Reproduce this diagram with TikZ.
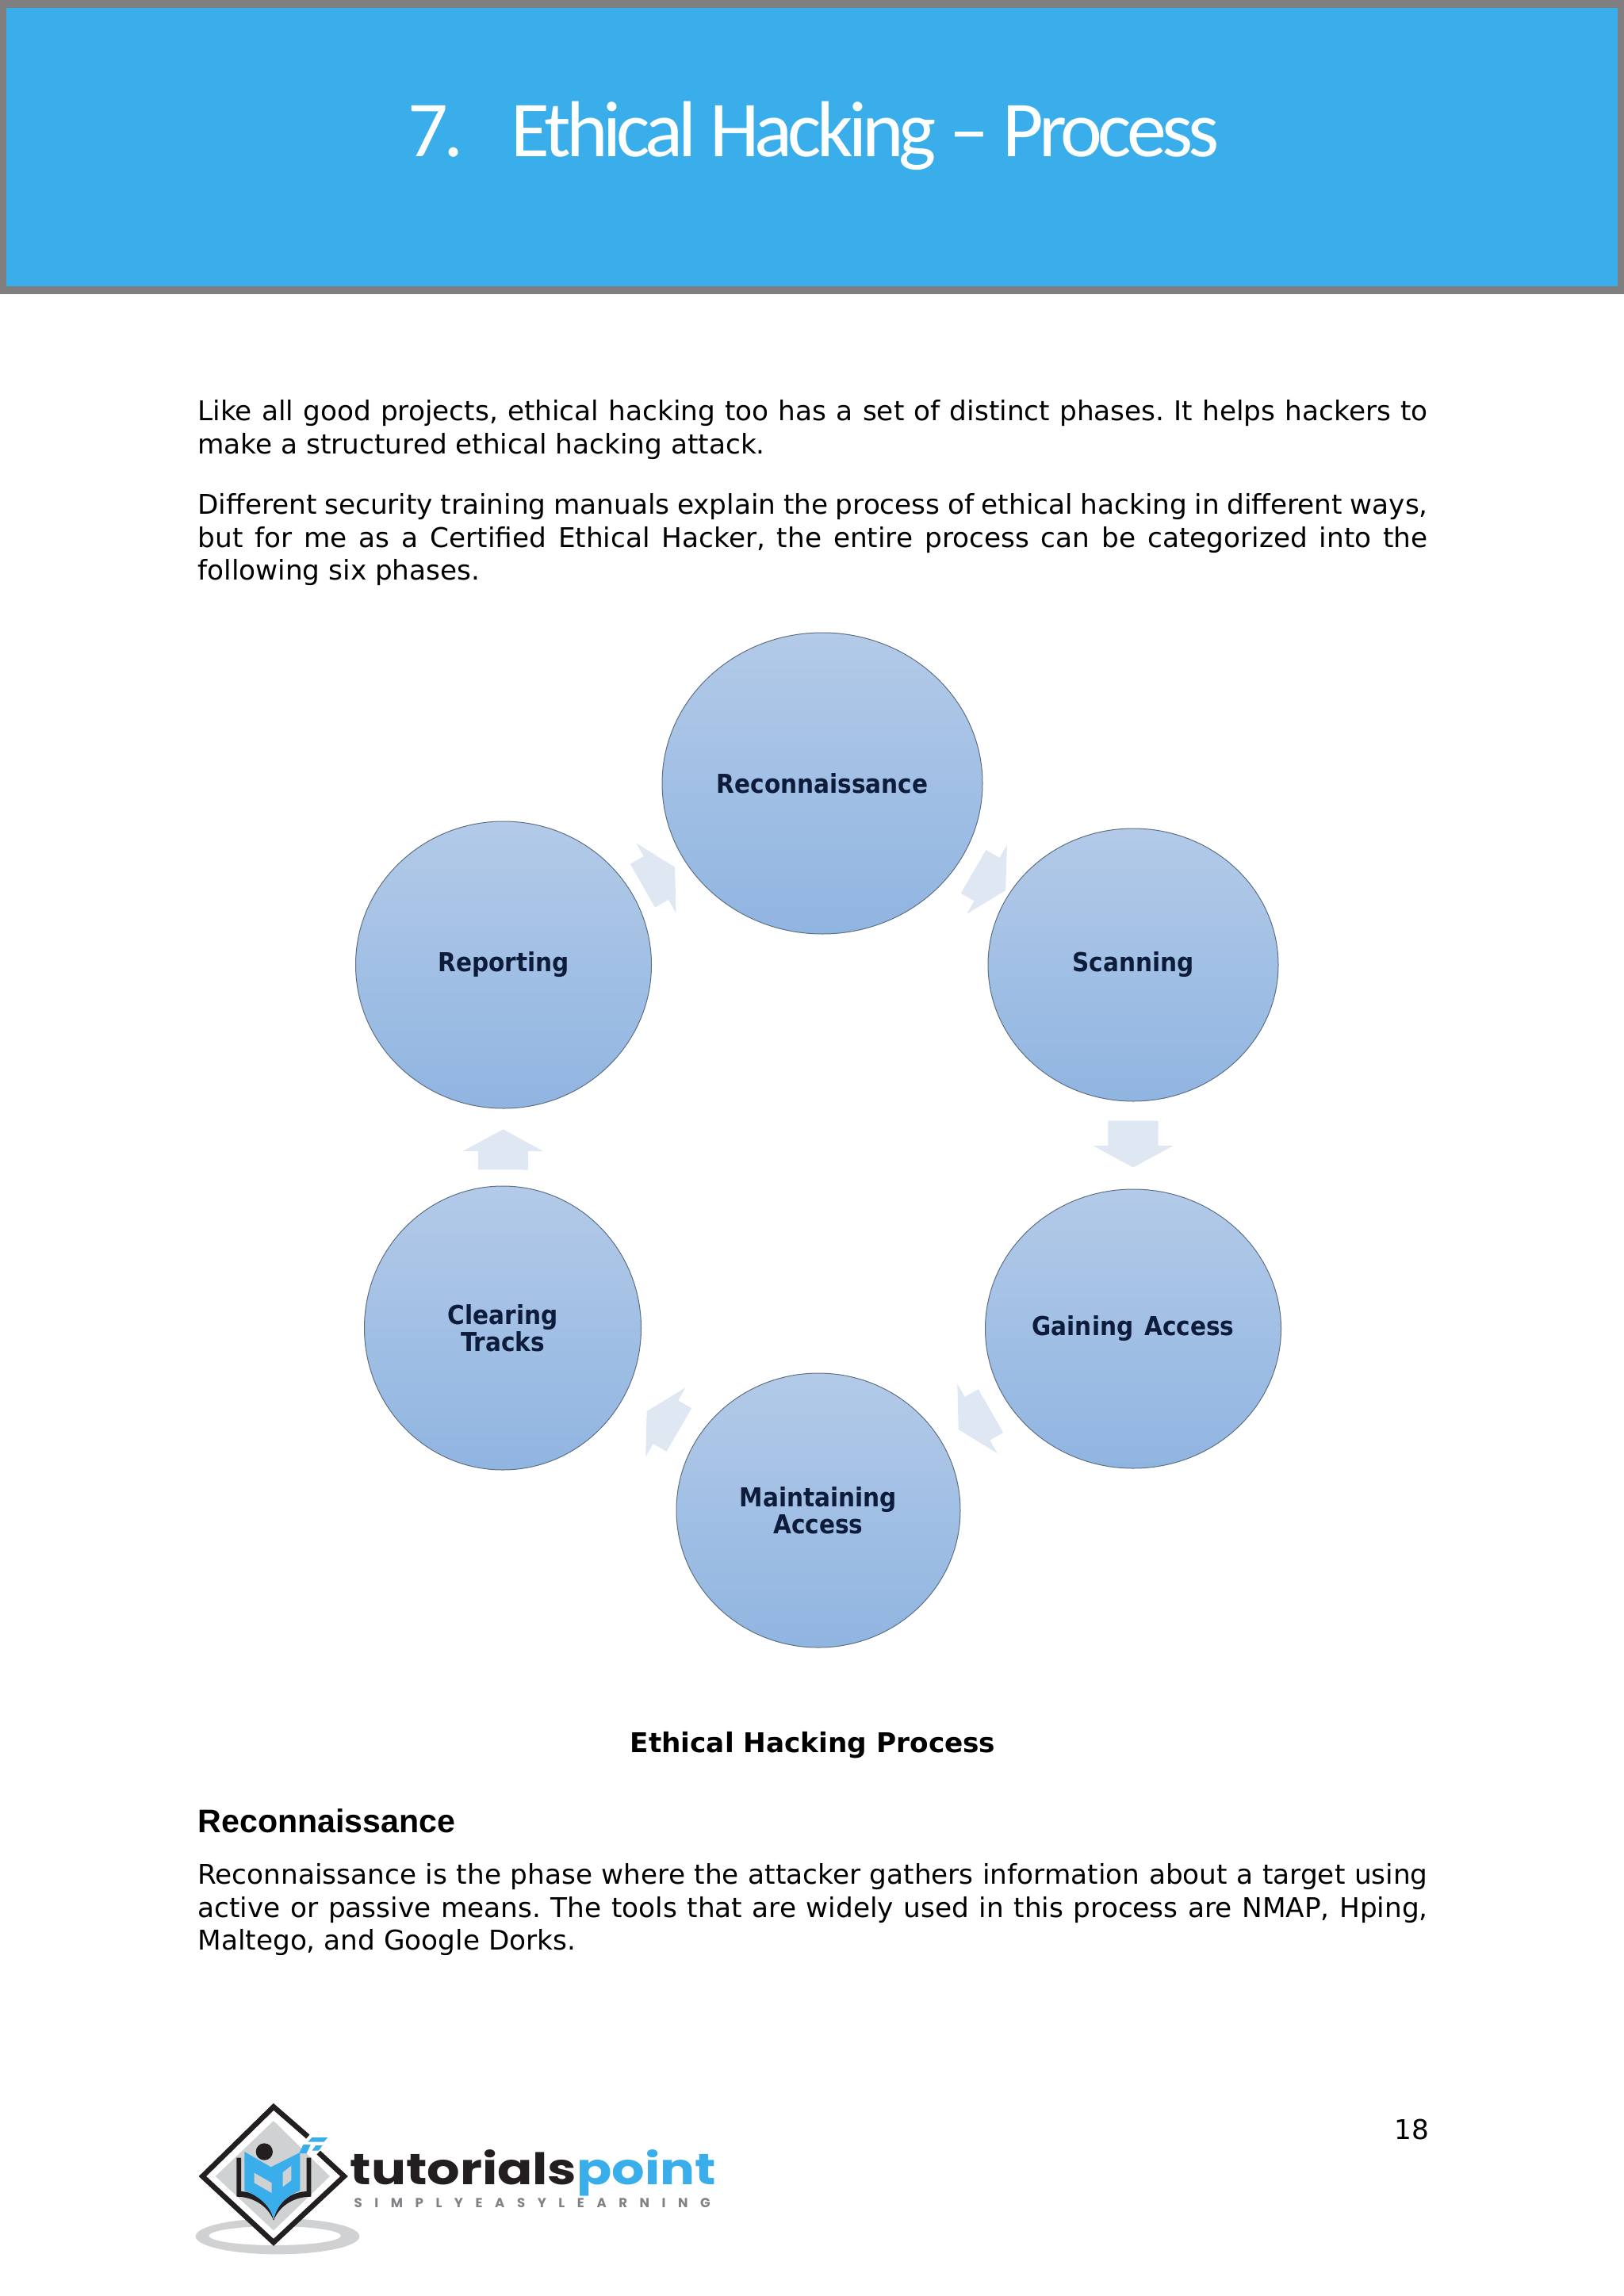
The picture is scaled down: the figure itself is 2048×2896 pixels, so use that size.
\documentclass[tikz,border=0pt]{standalone}
\usepackage{fontspec}
\usetikzlibrary{shapes.geometric,shapes.arrows}
\setmainfont{DejaVu Sans}
\newfontfamily\titlefont{Carlito}
\newfontfamily\labelfont{DejaVu Sans Condensed}
\newfontfamily\headfont{Liberation Sans}
\newfontfamily\logofont{Poppins}
\newfontfamily\logowide{Poppins}[FakeStretch=1.19]
\definecolor{bannerblue}{HTML}{3AAEEA}
\definecolor{bannergrey}{HTML}{7F7F80}
\definecolor{circtop}{HTML}{B3CAE8}
\definecolor{circbot}{HTML}{90B5E1}
\definecolor{circline}{HTML}{5F6F82}
\definecolor{labelink}{HTML}{0E1C3C}
\definecolor{arrowfill}{HTML}{DFE7F3}
\definecolor{logogrey}{HTML}{CFD1D2}
\definecolor{logoblack}{HTML}{231F20}
\definecolor{logotag}{HTML}{808285}
\tikzset{
  phase/.style={ellipse,draw=circline,line width=0.35pt,top color=circtop,bottom color=circbot,
    inner sep=0pt,align=center,text=labelink,
    font=\labelfont\bfseries\fontsize{11.5pt}{11.9pt}\selectfont},
  flowarrow/.style={single arrow,fill=arrowfill,draw=none,inner xsep=0pt,inner ysep=31*0.35pt,sloped,allow upside down,
    anchor=tail,minimum height=#1*0.35pt,minimum width=100*0.35pt,single arrow head extend=19*0.35pt,
    single arrow tip angle=123},
  bodytext/.style={anchor=north west,inner sep=0pt,text width=1551*0.35pt,align=justify,
    font=\frenchspacing\fontsize{12pt}{14.5pt}\selectfont},
}
\begin{document}
\begin{tikzpicture}[x=0.35pt,y=-0.35pt]
\useasboundingbox (0,0) rectangle (2048,2896);
% banner
\fill[bannergrey] (0,0) rectangle (2048,371);
\fill[bannerblue] (8,10) rectangle (2040,361);
\node[anchor=base,inner sep=0pt,text=white,font=\titlefont\fontsize{35pt}{40pt}\selectfont] (title) at (1026,198)
  {\addfontfeature{LetterSpace=-5.8}7.\hspace{0.6em}Ethical Hacking – Process};
% intro
\node[bodytext] (p1) at (249,504) {\tolerance=9999 Like all good projects, ethical hacking too has a set of distinct phases. It helps hackers to\linebreak make a structured ethical hacking attack.};
\node[bodytext] (p2) at (249,622) {\tolerance=9999 Different security training manuals explain the process of ethical hacking in different ways,\linebreak but for me as a Certified Ethical Hacker, the entire process can be categorized into the\linebreak following six phases.};
% phases
\node[phase,minimum width=404*0.35pt,minimum height=380*0.35pt] (rec) at (1037,988) {Reconnaissance};
\node[phase,minimum width=366*0.35pt,minimum height=344*0.35pt] (scan) at (1429,1217) {Scanning};
\node[phase,minimum width=373*0.35pt,minimum height=352*0.35pt] (gain) at (1429,1676) {Gaining\hspace{0.42em}Access};
\node[phase,minimum width=358*0.35pt,minimum height=346*0.35pt] (maint) at (1032,1905) {Maintaining\\Access};
\node[phase,minimum width=349*0.35pt,minimum height=358*0.35pt] (clear) at (634,1675) {Clearing\\Tracks};
\node[phase,minimum width=373*0.35pt,minimum height=362*0.35pt] (rep) at (635,1217) {Reporting};
% flow arrows
\path (rec.center) -- (scan.center) node[flowarrow=47,pos=.485] (a1) {};
\path (scan.center) -- (gain.center) node[flowarrow=59,pos=.427] (a2) {};
\path (gain.center) -- (maint.center) node[flowarrow=47,pos=.451] (a3) {};
\path (maint.center) -- (clear.center) node[flowarrow=47,pos=.44] (a4) {};
\path (clear.center) -- (rep.center) node[flowarrow=51,pos=.4345] (a5) {};
\path (rep.center) -- (rec.center) node[flowarrow=47,pos=.435] (a6) {};
% caption and section
\node[anchor=base,inner sep=0pt,font=\bfseries\fontsize{12pt}{14pt}\selectfont] (cap) at (1025,2210) {Ethical Hacking Process};
\node[anchor=base west,inner sep=0pt,font=\headfont\bfseries\fontsize{14.4pt}{16pt}\selectfont] (sec) at (249,2311) {Reconnaissance};
\node[bodytext] (p3) at (249,2350) {\tolerance=9999 Reconnaissance is the phase where the attacker gathers information about a target using\linebreak active or passive means. The tools that are widely used in this process are NMAP, Hping,\linebreak Maltego, and Google Dorks.};
\node[anchor=base east,inner sep=0pt,font=\fontsize{12pt}{14.5pt}\selectfont] (pg) at (1803,2698) {18};
% logo
\begin{scope}[shift={(230,2640)},x=0.116667pt,y=-0.116667pt]
  \fill[logogrey,even odd rule] (360,542) ellipse [x radius=310,y radius=68] (350,540) ellipse [x radius=250,y radius=36];
  \fill[white] (345,70) -- (600,315) -- (345,555) -- (88,315) -- cycle;
  \fill[logogrey] (345,105) -- (558,315) -- (345,520) -- (125,315) -- cycle;
  \draw[logoblack,line width=2.3pt,miter limit=10] (515,225) -- (612,315) -- (345,565) -- (76,315) -- (345,52) -- (475,165);
  \fill[bannerblue] (490,168) -- (550,168) -- (535,185) -- (475,185) -- cycle;
  \fill[bannerblue] (457,195) -- (485,195) -- (470,228) -- (442,228) -- cycle;
  \fill[bannerblue] (505,198) -- (530,198) -- (515,218) -- (490,218) -- cycle;
  \fill[logoblack] (205,245) -- (222,245) -- (222,372) .. controls (280,375) and (330,410) .. (345,480)
     .. controls (360,410) and (410,375) .. (470,372) -- (470,245) -- (487,245) -- (487,392)
     .. controls (430,392) and (370,420) .. (345,482) .. controls (320,420) and (260,392) .. (205,392) -- cycle;
  \fill[logoblack] (310,222) circle [radius=32];
  \fill[bannerblue] (235,222) -- (335,280) -- (445,225) -- (445,370) .. controls (400,385) and (360,420) .. (345,475)
     .. controls (330,420) and (280,385) .. (235,370) -- cycle;
  \fill[logogrey] (272,302) -- (338,340) -- (338,378) -- (272,340) -- cycle;
  \fill[logogrey] (380,300) -- (412,275) -- (412,330) -- (380,355) -- cycle;
\end{scope}
\node[anchor=base west,inner sep=0pt,font=\logowide\bfseries\fontsize{19.2pt}{22pt}\selectfont,text=logoblack] (lt) at (441,2755)
  {tutorials\textcolor{bannerblue}{point}};
\node[anchor=base west,inner sep=0pt,font=\logofont\bfseries\fontsize{5.8pt}{7pt}\selectfont,text=logotag] (lg) at (446,2784)
  {\addfontfeature{LetterSpace=94}SIMPLYEASYLEARNING};
\end{tikzpicture}
\end{document}
